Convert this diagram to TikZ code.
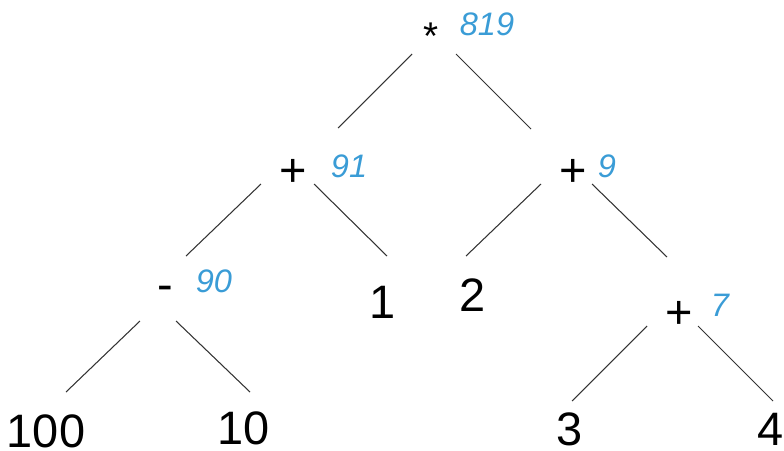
\documentclass[tikz,border=0pt]{standalone}
\usepackage{fontspec}
\setmainfont{Liberation Sans}
\usepackage{xcolor}
\usepackage{tikz}
\definecolor{valblue}{RGB}{58,156,214}

\begin{document}
\begin{tikzpicture}[
    x=0.02cm, y=-0.02cm,
    sym/.style={inner sep=0pt, text height=19.2pt, text depth=0pt,
                font=\fontsize{26.7}{30}\selectfont},
    val/.style={inner sep=0pt, text height=13.3pt, text depth=0pt, text=valblue,
                font=\fontsize{18.5}{22}\selectfont\itshape},
    edge/.style={draw=black!80, line width=0.6pt}
]
\useasboundingbox (0,0) rectangle (784,450);

% ====================== OPERATORS ======================
\node[sym, font=\fontsize{22}{24}\selectfont] (mul) at (431, 33) {*};
\node[sym] (p91) at (293, 170) {+};
\node[sym] (p9)  at (573, 170) {+};
\node[sym] (m90) at (165, 284) {-};
\node[sym] (p7)  at (679, 312) {+};

% ====================== LEAVES ======================
\node[sym] (one)     at (383, 302) {1};
\node[sym] (two)     at (473, 295) {2};
\node[sym] (hundred) at (46, 431)  {100};
\node[sym] (ten)     at (244, 428) {10};
\node[sym] (three)   at (570, 429) {3};
\node[sym] (four)    at (771, 429) {4};

% ====================== VALUES ======================
\node[val] (v819) at (487, 24)  {819};
\node[val] (v91)  at (349, 166) {91};
\node[val] (v9)   at (607, 166) {9};
\node[val] (v90)  at (214, 281) {90};
\node[val] (v7)   at (720, 305) {7};

% ====================== EDGES ======================
\draw[edge] ([shift={(-19,21)}]mul.center) -- ([shift={(45,-42)}]p91.center);
\draw[edge] ([shift={(25,21)}]mul.center)  -- ([shift={(-42,-41)}]p9.center);
\draw[edge] ([shift={(-32,14)}]p91.center) -- ([shift={(21,-28)}]m90.center);
\draw[edge] ([shift={(21,14)}]p91.center)  -- ([shift={(4,-46)}]one.center);
\draw[edge] ([shift={(-32,14)}]p9.center)  -- ([shift={(-7,-39)}]two.center);
\draw[edge] ([shift={(19,14)}]p9.center)   -- ([shift={(-12,-55)}]p7.center);
\draw[edge] ([shift={(-25,37)}]m90.center) -- ([shift={(20,-39)}]hundred.center);
\draw[edge] ([shift={(11,37)}]m90.center)  -- ([shift={(6,-36)}]ten.center);
\draw[edge] ([shift={(-32,14)}]p7.center)  -- ([shift={(2,-28)}]three.center);
\draw[edge] ([shift={(19,14)}]p7.center)   -- ([shift={(2,-28)}]four.center);

\end{tikzpicture}
\end{document}
